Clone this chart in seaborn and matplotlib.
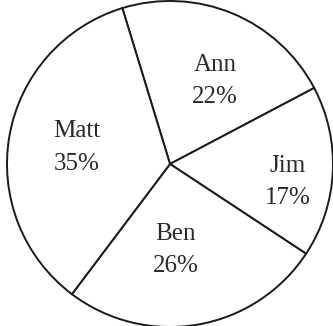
import numpy as np
import matplotlib
matplotlib.use("Agg")
import matplotlib.pyplot as plt
import seaborn as sns

# ── Data ──────────────────────────────────────────────────────
names   = ["Ann", "Jim", "Ben", "Matt"]
percent = [22, 17, 26, 35]

# label placement per slice: radius (fraction of R) and angle nudge (deg)
label_r     = [0.58, 0.73, 0.53, 0.58]
label_nudge = [-6, -6, -6, 0]

sns.set_theme(style="white")
plt.rcParams["font.family"] = ["Liberation Serif", "DejaVu Serif"]

fig = plt.figure(figsize=(3.33, 3.26), dpi=100)
ax = fig.add_axes([0, 0, 1, 1])

wedges, _ = ax.pie(percent, startangle=107, counterclock=False,
                   colors=["white"] * len(percent),
                   wedgeprops={"edgecolor": "#1a1a1a", "linewidth": 1.4})

for w, n, v, r, d in zip(wedges, names, percent, label_r, label_nudge):
    mid = np.deg2rad((w.theta1 + w.theta2) / 2 + d)
    ax.text(r * np.cos(mid), r * np.sin(mid), f"{n}\n{v}%",
            ha="center", va="center", fontsize=18, color="#2a2a2a",
            linespacing=1.6)

ax.set_xlim(-1.043, 1.0)
ax.set_ylim(-0.994, 1.006)
ax.set_aspect("auto")
ax.axis("off")

fig.savefig("out.png", dpi=100, facecolor="white")
